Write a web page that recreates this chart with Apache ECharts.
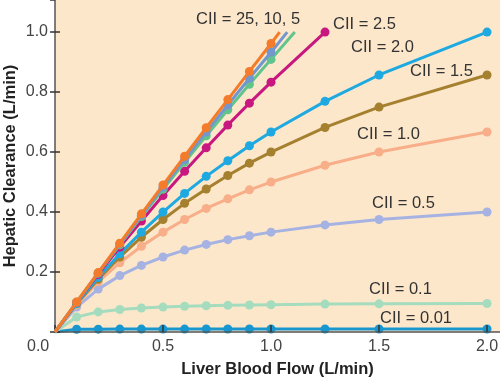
<!DOCTYPE html>
<html>
<head>
<meta charset="utf-8">
<script src="https://cdn.jsdelivr.net/npm/echarts@6/dist/echarts.min.js"></script>
<style>
html,body{margin:0;padding:0;background:#fff;}
#chart{width:500px;height:380px;}
</style>
</head>
<body>
<div id="chart"></div>
<script>
// Liver blood flow (L/min) sample points
const flow = [0, 0.1, 0.2, 0.3, 0.4, 0.5, 0.6, 0.7, 0.8, 0.9, 1.0, 1.25, 1.5, 2.0];
const flowTo125 = [0, 0.1, 0.2, 0.3, 0.4, 0.5, 0.6, 0.7, 0.8, 0.9, 1.0, 1.25];
// steep lines: dots up to 1.0, line continues to the top edge (no dot)
const flowCii25 = [0, 0.1, 0.2, 0.3, 0.4, 0.5, 0.6, 0.7, 0.8, 0.9, 1.0, 1.04];
const flowCii10 = [0, 0.1, 0.2, 0.3, 0.4, 0.5, 0.6, 0.7, 0.8, 0.9, 1.0, 1.075];
const flowCii5  = [0, 0.1, 0.2, 0.3, 0.4, 0.5, 0.6, 0.7, 0.8, 0.9, 1.0, 1.11];

// Hepatic clearance (L/min)
const clCii25  = [0, 0.100, 0.198, 0.296, 0.394, 0.490, 0.586, 0.681, 0.775, 0.869, 0.962, 1.0];
const clCii10  = [0, 0.099, 0.197, 0.294, 0.389, 0.483, 0.575, 0.667, 0.757, 0.846, 0.933, 1.0];
const clCii5   = [0, 0.099, 0.196, 0.291, 0.385, 0.476, 0.566, 0.654, 0.741, 0.826, 0.909, 1.0];
const clCii2_5 = [0, 0.098, 0.192, 0.283, 0.370, 0.455, 0.536, 0.614, 0.690, 0.763, 0.833, 1.0];
const clCii2_0 = [0, 0.095, 0.182, 0.261, 0.333, 0.400, 0.462, 0.519, 0.571, 0.621, 0.667, 0.769, 0.857, 1.0];
const clCii1_5 = [0, 0.094, 0.176, 0.250, 0.316, 0.375, 0.429, 0.477, 0.522, 0.563, 0.600, 0.682, 0.750, 0.857];
const clCii1_0 = [0, 0.091, 0.167, 0.231, 0.286, 0.333, 0.375, 0.412, 0.444, 0.474, 0.500, 0.556, 0.600, 0.667];
const clCii0_5 = [0, 0.083, 0.143, 0.188, 0.222, 0.250, 0.273, 0.292, 0.308, 0.321, 0.333, 0.357, 0.375, 0.400];
const clCii0_1 = [0, 0.050, 0.067, 0.075, 0.080, 0.083, 0.086, 0.0875, 0.089, 0.090, 0.091, 0.093, 0.094, 0.095];
const clCii0_01= [0, 0.009, 0.0095, 0.0097, 0.0098, 0.0098, 0.0098, 0.0099, 0.0099, 0.0099, 0.0099, 0.0099, 0.0099, 0.0099];

const xTicks = [0.5, 1.0, 1.5, 2.0];
const yTicks = [0.2, 0.4, 0.6, 0.8, 1.0];

const labels = [
  {text: 'CII = 25, 10, 5', x: 196, y: 19},
  {text: 'CII = 2.5', x: 333, y: 24},
  {text: 'CII = 2.0', x: 351, y: 47},
  {text: 'CII = 1.5', x: 410, y: 71},
  {text: 'CII = 1.0', x: 357, y: 134},
  {text: 'CII = 0.5', x: 372, y: 203},
  {text: 'CII = 0.1', x: 369, y: 289},
  {text: 'CII = 0.01', x: 380, y: 318}
];

function mk(xs, ys, color, noEndDot) {
  return xs.map(function (x, i) {
    const item = {value: [x, ys[i]]};
    if (i === 0 || (noEndDot && i === xs.length - 1)) item.symbol = 'none';
    return item;
  });
}

function series(name, data, color, z) {
  return {
    name: name, type: 'line', data: data, z: z,
    symbol: 'circle', symbolSize: 9, showSymbol: true,
    lineStyle: {color: color, width: 3},
    itemStyle: {color: color},
    animation: false
  };
}

const chart = echarts.init(document.getElementById('chart'), null, {renderer: 'canvas'});
const fontFamily = '"Liberation Sans", Arial, Helvetica, sans-serif';

chart.setOption({
  backgroundColor: '#ffffff',
  grid: {left: 55, right: 0, top: 0, bottom: 48, show: true, backgroundColor: '#fce7cb', borderWidth: 0,
         containLabel: false, outerBoundsMode: 'none'},
  xAxis: {
    type: 'value', min: 0, max: 2.06, interval: 0.5, z: 5,
    name: 'Liver Blood Flow (L/min)', nameLocation: 'middle', nameGap: 29, nameMoveOverlap: false,
    nameTextStyle: {fontFamily: fontFamily, fontWeight: 'bold', fontSize: 16.5, color: '#222'},
    axisLine: {show: true, lineStyle: {color: '#555', width: 1.5}},
    axisTick: {show: true, inside: true, length: 7, lineStyle: {color: '#333', width: 1.5}},
    splitLine: {show: false},
    axisLabel: {
      margin: 7, fontFamily: fontFamily, fontSize: 16, color: '#444',
      showMaxLabel: false,
      formatter: function (v) {
        for (const t of xTicks) if (Math.abs(v - t) < 1e-6) return t.toFixed(1);
        return '';
      }
    }
  },
  yAxis: [{
    type: 'value', min: 0, max: 1.107, interval: 0.2, z: 5,
    name: 'Hepatic Clearance (L/min)', nameLocation: 'middle', nameGap: 36, nameMoveOverlap: false,
    nameTextStyle: {fontFamily: fontFamily, fontWeight: 'bold', fontSize: 16.5, color: '#222'},
    axisLine: {show: true, lineStyle: {color: '#555', width: 1.5}},
    axisTick: {show: true, inside: true, length: 5, lineStyle: {color: '#333', width: 1.5}},
    splitLine: {show: false},
    axisLabel: {
      margin: 7, fontFamily: fontFamily, fontSize: 16, color: '#444',
      showMaxLabel: false,
      formatter: function (v) {
        for (const t of yTicks) if (Math.abs(v - t) < 1e-6) return t.toFixed(1);
        return '';
      }
    }
  }, {
    type: 'value', min: 0, max: 1.107, interval: 0.2, position: 'left', z: 5,
    axisLine: {show: false},
    axisTick: {show: true, inside: false, length: 5, lineStyle: {color: '#333', width: 1.5}},
    axisLabel: {show: false}, splitLine: {show: false}
  }],
  graphic: [{
    type: 'text', left: 27, top: 339,
    style: {text: '0.0', fontFamily: fontFamily, fontSize: 16, fill: '#444'}
  }].concat(labels.map(function (l) {
    return {
      type: 'text', x: l.x, y: l.y, z: 100,
      style: {text: l.text, fontFamily: fontFamily, fontSize: 16.5, fill: '#333', textVerticalAlign: 'middle', verticalAlign: 'middle'}
    };
  })),
  series: [
    series('CII = 0.01', mk(flow, clCii0_01), '#1897cf', 2),
    series('CII = 0.1', mk(flow, clCii0_1), '#a6dcbe', 3),
    series('CII = 0.5', mk(flow, clCii0_5), '#a6b3e2', 4),
    series('CII = 1.0', mk(flow, clCii1_0), '#f8ae88', 5),
    series('CII = 1.5', mk(flow, clCii1_5), '#a4802f', 6),
    series('CII = 2.0', mk(flow, clCii2_0), '#1ea9e1', 7),
    series('CII = 2.5', mk(flowTo125, clCii2_5), '#c8177f', 8),
    series('CII = 5', mk(flowCii5, clCii5, null, true), '#62c48d', 9),
    series('CII = 10', mk(flowCii10, clCii10, null, true), '#7496cf', 10),
    series('CII = 25', mk(flowCii25, clCii25, null, true), '#f47b2a', 11)
  ]
});
</script>
</body>
</html>
